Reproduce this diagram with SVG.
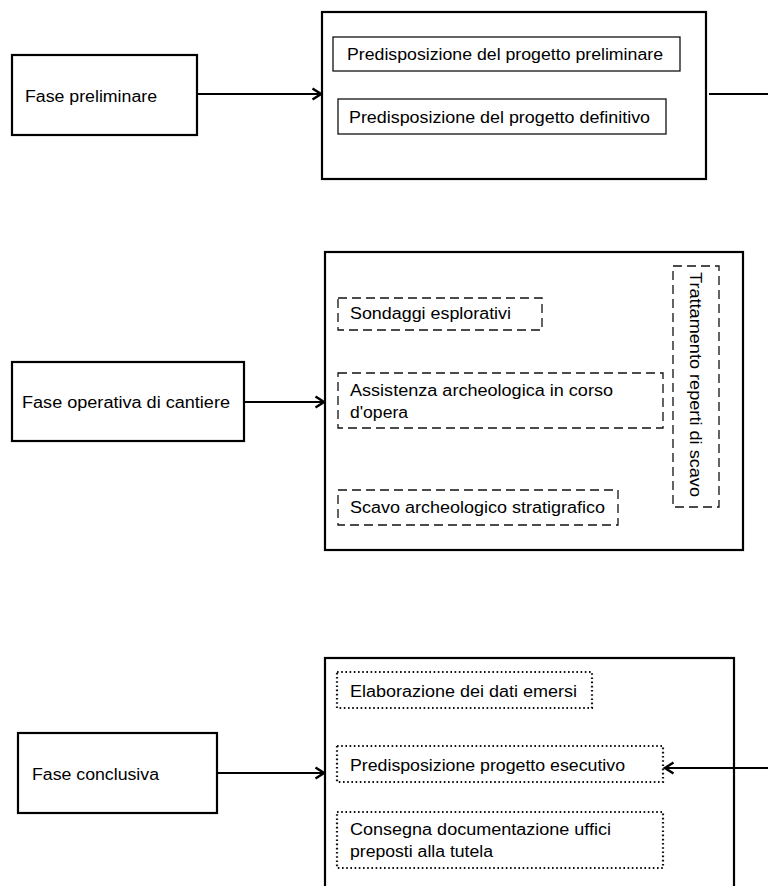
<svg xmlns="http://www.w3.org/2000/svg" width="768" height="886" viewBox="0 0 768 886">
<defs>
<marker id="arr" markerWidth="12" markerHeight="14" refX="10" refY="7" orient="auto" markerUnits="userSpaceOnUse">
<path d="M1.5,1.5 L10,7 L1.5,12.5" fill="none" stroke="#000" stroke-width="2.4"/>
</marker>
<style>
.t{font-family:"Liberation Sans",Arial,sans-serif;font-size:16px;fill:#000}
.outer{fill:#fff;stroke:#000;stroke-width:2.2}
.solid{fill:#fff;stroke:#111;stroke-width:1.3}
.dash{fill:none;stroke:#111;stroke-width:1.3;stroke-dasharray:9 5}
.dot{fill:none;stroke:#111;stroke-width:2.2;stroke-dasharray:1.6 2.6}
.ln{stroke:#000;stroke-width:2.2;fill:none}
</style>
</defs>
<rect width="768" height="886" fill="#fff"/>

<g id="fase-preliminare">
<rect class="outer" x="12" y="55" width="185" height="80"/>
<text class="t" x="25" y="102" textLength="132" lengthAdjust="spacingAndGlyphs">Fase preliminare</text>
</g>
<g id="gruppo-preliminare">
<rect class="outer" x="322" y="12" width="384" height="167"/>
</g>
<g id="progetto-preliminare">
<rect class="solid" x="333" y="37" width="347" height="34"/>
<text class="t" x="347" y="60" textLength="316" lengthAdjust="spacingAndGlyphs">Predisposizione del progetto preliminare</text>
</g>
<g id="progetto-definitivo">
<rect class="solid" x="338" y="99" width="328" height="35"/>
<text class="t" x="349" y="123" textLength="301" lengthAdjust="spacingAndGlyphs">Predisposizione del progetto definitivo</text>
</g>

<g id="fase-operativa">
<rect class="outer" x="12" y="362" width="232" height="79"/>
<text class="t" x="22" y="408" textLength="208" lengthAdjust="spacingAndGlyphs">Fase operativa di cantiere</text>
</g>
<g id="gruppo-operativa">
<rect class="outer" x="325" y="252" width="418" height="298"/>
</g>
<g id="sondaggi">
<rect class="dash" x="338" y="298" width="204" height="32"/>
<text class="t" x="350" y="319" textLength="161" lengthAdjust="spacingAndGlyphs">Sondaggi esplorativi</text>
</g>
<g id="assistenza">
<rect class="dash" x="338" y="373" width="325" height="55"/>
<text class="t" x="350" y="396" textLength="263" lengthAdjust="spacingAndGlyphs">Assistenza archeologica in corso</text>
<text class="t" x="350" y="418" textLength="58" lengthAdjust="spacingAndGlyphs">d'opera</text>
</g>
<g id="scavo">
<rect class="dash" x="338" y="490" width="280" height="35"/>
<text class="t" x="350" y="513" textLength="255" lengthAdjust="spacingAndGlyphs">Scavo archeologico stratigrafico</text>
</g>
<g id="trattamento">
<rect class="dash" x="673" y="266" width="46" height="241"/>
<text class="t" transform="translate(690,272) rotate(90)" textLength="225" lengthAdjust="spacingAndGlyphs">Trattamento reperti di scavo</text>
</g>

<g id="fase-conclusiva">
<rect class="outer" x="18" y="733" width="199" height="80"/>
<text class="t" x="32" y="780" textLength="127" lengthAdjust="spacingAndGlyphs">Fase conclusiva</text>
</g>
<g id="gruppo-conclusiva">
<rect class="outer" x="325" y="658" width="409" height="240"/>
</g>
<g id="elaborazione">
<rect class="dot" x="337" y="672" width="255" height="36"/>
<text class="t" x="350" y="697" textLength="227" lengthAdjust="spacingAndGlyphs">Elaborazione dei dati emersi</text>
</g>
<g id="progetto-esecutivo">
<rect class="dot" x="337" y="746" width="326" height="36"/>
<text class="t" x="350" y="771" textLength="275" lengthAdjust="spacingAndGlyphs">Predisposizione progetto esecutivo</text>
</g>
<g id="consegna">
<rect class="dot" x="337" y="812" width="326" height="56"/>
<text class="t" x="350" y="835" textLength="261" lengthAdjust="spacingAndGlyphs">Consegna documentazione uffici</text>
<text class="t" x="350" y="857" textLength="143" lengthAdjust="spacingAndGlyphs">preposti alla tutela</text>
</g>

<g id="connectors">
<line class="ln" x1="197" y1="94" x2="321" y2="94" marker-end="url(#arr)"/>
<line class="ln" x1="244" y1="402" x2="324" y2="402" marker-end="url(#arr)"/>
<line class="ln" x1="217" y1="773" x2="324" y2="773" marker-end="url(#arr)"/>
<line class="ln" x1="709" y1="94" x2="768" y2="94"/>
<line class="ln" x1="768" y1="768" x2="665" y2="768" marker-end="url(#arr)"/>
</g>
</svg>
